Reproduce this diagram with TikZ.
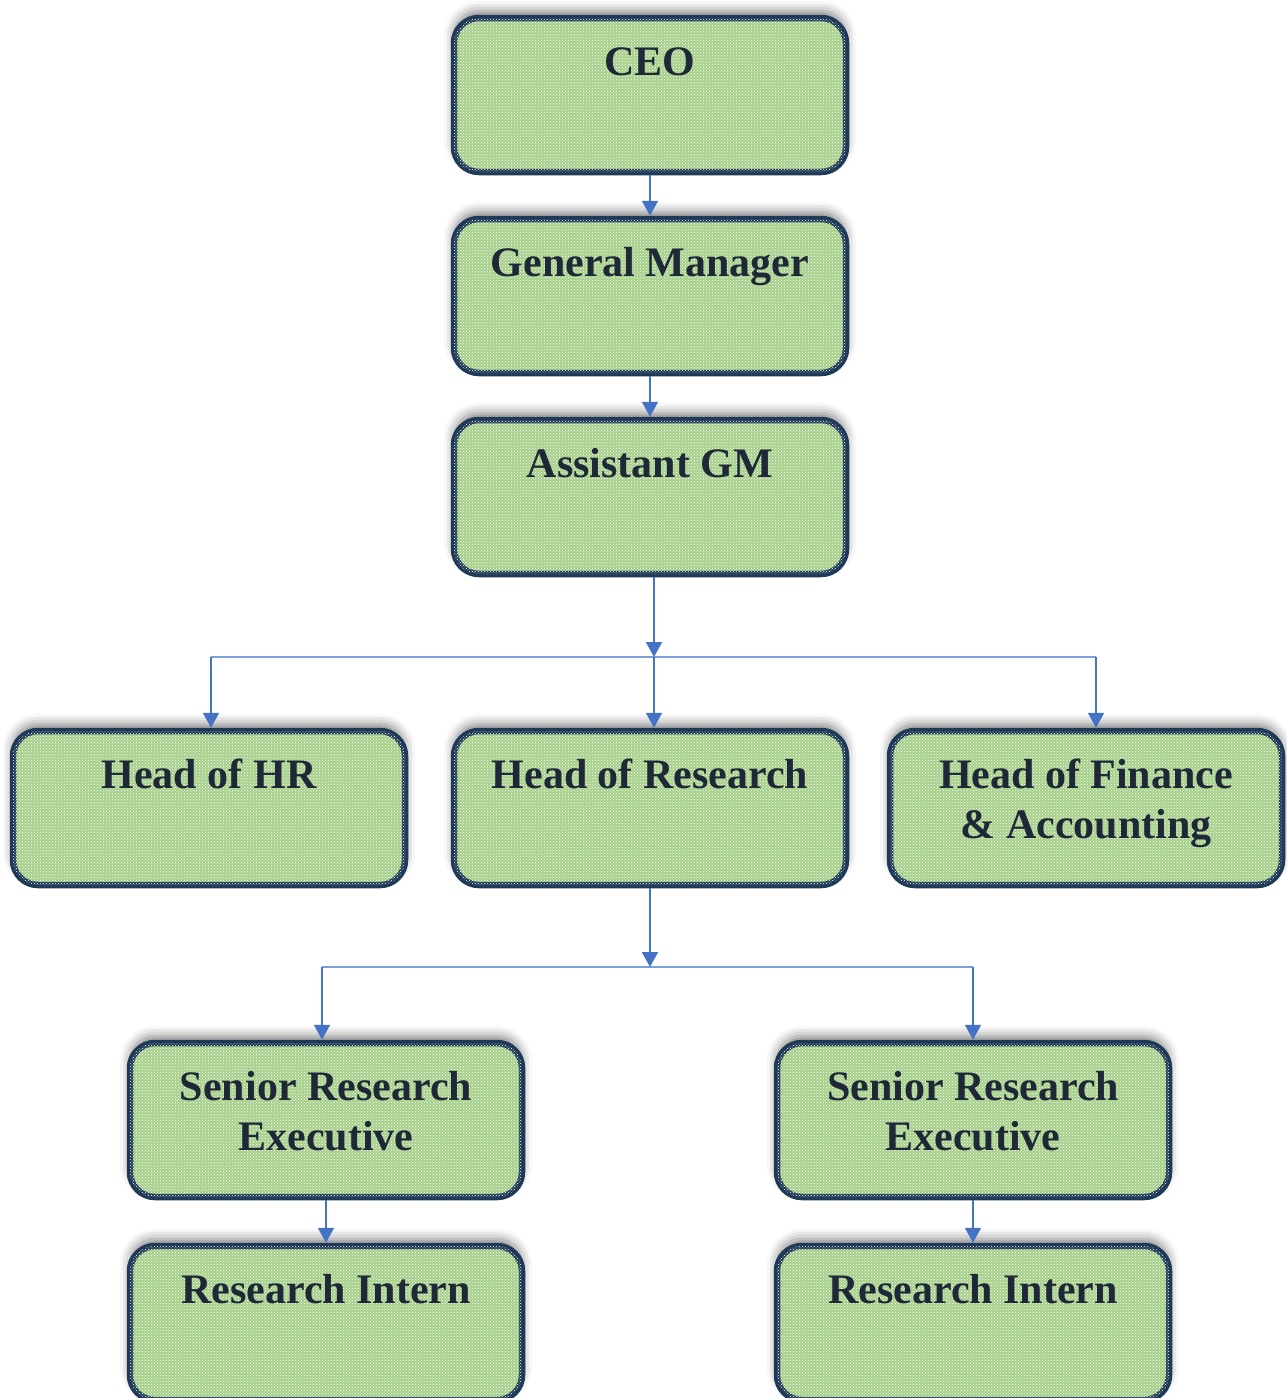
\documentclass[tikz,border=0pt]{standalone}
\usepackage{fontspec}
\setmainfont{Liberation Serif}
\usepackage{tikz}
\usetikzlibrary{arrows.meta,shadows.blur,patterns}

\definecolor{boxgreen}{RGB}{166,208,138}
\definecolor{boxline}{RGB}{31,58,86}
\definecolor{txtdark}{RGB}{30,40,54}
\definecolor{arrblue}{RGB}{68,114,196}
\definecolor{busblue}{RGB}{122,160,220}

\tikzset{
  postbox/.style={draw=boxline, line width=6.5pt, rounded corners=25pt,
    fill=boxgreen, postaction={pattern=crosshatch dots, pattern color=white},
    blur shadow={shadow xshift=0pt, shadow yshift=7pt, shadow blur radius=10pt, shadow opacity=50},
    minimum width=392pt, minimum height=154pt, inner sep=0pt,
    text=txtdark, font=\fontsize{42}{50}\selectfont\bfseries},
  arr/.style={arrblue, line width=2pt, -{Triangle[width=16pt,length=15pt]}},
  busline/.style={busblue, line width=1.6pt}
}

% box text sits near the top
\newcommand{\postname}[1]{\parbox[c][154pt][t]{380pt}{\centering\rule{0pt}{57pt}#1}}

\begin{document}
\begin{tikzpicture}[x=1pt,y=-1pt]

\useasboundingbox (0,0) rectangle (1287,1398);

%top of the chart
\node[postbox] (ceo) at (650,95) {\postname{CEO}};
\node[postbox] (gm) at (650,296) {\postname{General Manager}};
\node[postbox] (agm) at (650,497) {\postname{Assistant GM}};

%heads
\node[postbox] (hr) at (209,808) {\postname{Head of HR}};
\node[postbox] (res) at (650,808) {\postname{Head of Research}};
\node[postbox] (fin) at (1086,808) {\postname{Head of Finance\\ \& Accounting}};

%research team
\node[postbox] (srel) at (326,1120) {\postname{Senior Research\\ Executive}};
\node[postbox] (srer) at (973,1120) {\postname{Senior Research\\ Executive}};
\node[postbox] (ril) at (326,1323) {\postname{Research Intern}};
\node[postbox] (rir) at (973,1323) {\postname{Research Intern}};

%bus points
\coordinate (busa) at (654,657);
\coordinate (busahr) at (211,657);
\coordinate (busafin) at (1096,657);
\coordinate (busb) at (650,967);
\coordinate (busbl) at (322,967);
\coordinate (busbr) at (973,967);

\draw[arr] (ceo) -- (gm);
\draw[arr] (gm) -- (agm);

\draw[busline] (busahr) -- (busafin);
\draw[arr] (agm.south -| busa) -- (busa);
\draw[arr] (busahr) -- (busahr |- hr.north);
\draw[arr] (busa) -- (busa |- res.north);
\draw[arr] (busafin) -- (busafin |- fin.north);

\draw[busline] (busbl) -- (busbr);
\draw[arr] (res.south -| busb) -- (busb);
\draw[arr] (busbl) -- (busbl |- srel.north);
\draw[arr] (busbr) -- (busbr |- srer.north);

\draw[arr] (srel) -- (ril);
\draw[arr] (srer) -- (rir);

\end{tikzpicture}
\end{document}
